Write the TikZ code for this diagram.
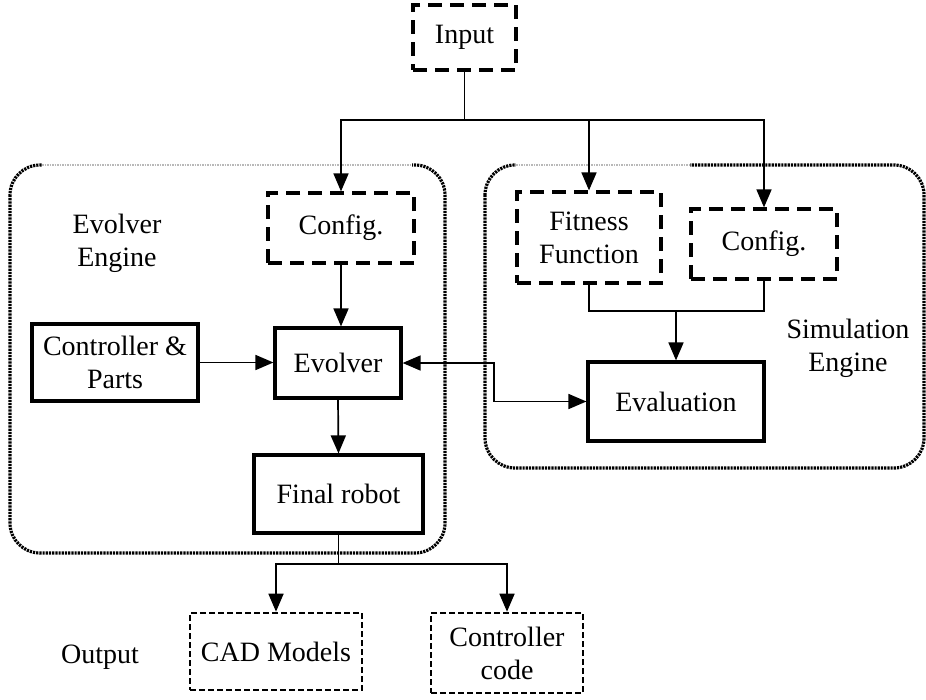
\documentclass[tikz,border=0pt]{standalone}
\usepackage{fontspec}
\setmainfont{Liberation Serif}
\usetikzlibrary{arrows.meta,calc}
\begin{document}
\begin{tikzpicture}[x=1pt,y=-1pt,
  every node/.style={font=\fontsize{28}{33}\selectfont, align=center, inner sep=0pt},
  solidbox/.style={draw, line width=3.2pt, rectangle},
  dashbox/.style={draw, line width=3.2pt, rectangle, dash pattern=on 14pt off 8pt},
  outbox/.style={draw, line width=2.6pt, rectangle, dash pattern=on 6pt off 3pt},
  group/.style={draw, line width=3.2pt, rounded corners=30pt, dash pattern=on 2.2pt off 1pt},
  link/.style={line width=1.7pt},
  arr/.style={link, -{Triangle[length=18pt,width=15pt]}},
  biarr/.style={link, {Triangle[length=18pt,width=15pt]}-{Triangle[length=18pt,width=15pt]}}
]
\useasboundingbox (0,0) rectangle (926,699);

% engine groups
\draw[group] (10,165) rectangle (445,553);
\draw[group] (485,165) rectangle (924,468);
% lighter top edges
\draw[white, line width=3.8pt] (42,165) -- (412,165);
\draw[gray!55, line width=1.2pt, dash pattern=on 1.5pt off 1pt] (42,165) -- (412,165);
\draw[white, line width=3.8pt] (516,165) -- (690,165);
\draw[gray!55, line width=1.2pt, dash pattern=on 1.5pt off 1pt] (516,165) -- (690,165);

% boxes
\node[dashbox, minimum width=103pt, minimum height=65pt] (input) at (464.5,37.5) {Input};
\node[dashbox, minimum width=146pt, minimum height=70pt] (cfgL) at (341,228) {Config.};
\node[dashbox, minimum width=144pt, minimum height=91pt] (fit) at (589,237.5) {Fitness\\Function};
\node[dashbox, minimum width=146pt, minimum height=70pt] (cfgR) at (764,244) {Config.};
\node[solidbox, minimum width=166pt, minimum height=77pt] (ctrl) at (115,362.5) {Controller \&\\Parts};
\node[solidbox, minimum width=126pt, minimum height=70pt] (evo) at (338,363) {Evolver};
\node[solidbox, minimum width=176pt, minimum height=79pt] (eval) at (676,401.5) {Evaluation};
\node[solidbox, minimum width=169pt, minimum height=78pt] (final) at (338.5,494) {Final robot};
\node[outbox, minimum width=172pt, minimum height=77pt] (cad) at (276,651.5) {CAD Models};
\node[outbox, minimum width=152pt, minimum height=80pt] (code) at (507,653) {Controller\\code};

% labels
\node (evolab) at (117,243) {Evolver\\Engine};
\node (simlab) at (848,348) {Simulation\\Engine};
\node (outlab) at (100,657) {Output};

% junction points
\coordinate (split) at (464.5,120);
\coordinate (merge) at (676,311);
\coordinate (loop) at (494,380);
\coordinate (split2) at (338.5,564);

% connectors
\draw[link] (input.south) -- (split);
\draw[arr] (split) -| (cfgL.north);
\draw[arr] (split) -| (fit.north);
\draw[arr] (split) -| (cfgR.north);
\draw[arr] (cfgL.south) -- (cfgL.south |- evo.north);
\draw[arr] (ctrl.east) -- (evo.west |- ctrl.east);
\draw[arr] (evo.south) -- (final.north);
\draw[link] (fit.south) |- (merge);
\draw[link] (cfgR.south) |- (merge);
\draw[arr] (merge) -- (eval.north);
\draw[biarr] (evo.east) -| (loop) |- (eval.west);
\draw[link] (final.south) -- (split2);
\draw[arr] (split2) -| (cad.north);
\draw[arr] (split2) -| (code.north);
\end{tikzpicture}
\end{document}
